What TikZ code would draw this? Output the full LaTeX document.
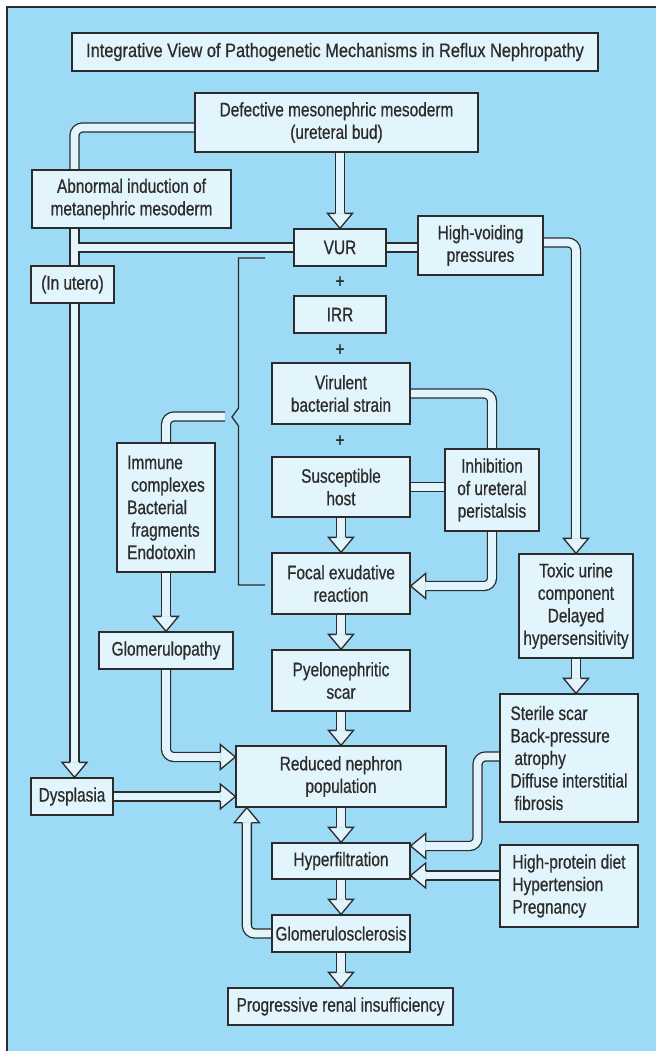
\documentclass[tikz,border=0pt]{standalone}
\usepackage{fontspec}
\setmainfont{Liberation Sans}[FakeStretch=0.79, FakeBold=0.6]
\newfontfamily\titlefont{Liberation Sans}[FakeStretch=0.84, FakeBold=0.6]
\usetikzlibrary{calc}
\definecolor{panel}{HTML}{9CDAF5}
\definecolor{boxfill}{HTML}{E2F4FC}
\definecolor{ink}{HTML}{2C2C2C}
\pgfdeclarelayer{back}
\pgfdeclarelayer{bands}
\pgfsetlayers{back,bands,main}

\tikzset{
  box/.style={draw=ink, fill=boxfill, line width=1.3pt, inner sep=0pt, text=ink,
              align=center, font=\fontsize{19.5}{22.5}\selectfont},
  lbox/.style={box, align=left},
  headstyle/.style={draw=ink, fill=boxfill, line width=1.3pt, line join=miter},
  bracketline/.style={draw=ink, line width=1.3pt},
  plus/.style={text=ink, inner sep=0pt, font=\fontsize{19.5}{22.5}\selectfont},
}

% hollow arrow head: #1 tip, #2 base centre
\newcommand\hhead[2]{%
  \filldraw[headstyle] ($(#2)!4.5pt!90:(#1)$) -- ($(#2)!12.5pt!90:(#1)$) -- (#1)
    -- ($(#2)!12.5pt!-90:(#1)$) -- ($(#2)!4.5pt!-90:(#1)$);}

% all broad connectors; drawn twice (outline pass, then fill pass)
\newcommand\bandpaths{%
  \draw[bandpass] ($(def.west)+(0,5)$) -- (c1) -- (c1 |- abn.north);
  \draw[bandpass] (c1 |- abn.south) -- (c1 |- ute.north);
  \draw[bandpass] (c1 |- ute.south) -- (a2b);
  \draw[bandpass] (vur.west) -- (c1 |- vur.west);
  \draw[bandpass] (vur.east) -- (vur.east -| hv.west);
  \draw[bandpass] (c2) -- (c2 -| tox.north) -- (a3b);
  \draw[bandpass] (tox.south) -- (a4b);
  \draw[bandpass] (def.south -| vur.north) -- (a1b);
  \draw[bandpass] (vir.east) -- (vir.east -| inh.north) -- (inh.north);
  \draw[bandpass] (sus.east) -- (sus.east -| inh.west);
  \draw[bandpass] (inh.south) -- (inh.south |- a5t) -- (a5b);
  \draw[bandpass] (sus.south) -- (a6b);
  \draw[bandpass] (foc.south) -- (a7b);
  \draw[bandpass] (pye.south) -- (a8b);
  \draw[bandpass] (rnp.south) -- (a9b);
  \draw[bandpass] (hyp.south) -- (a10b);
  \draw[bandpass] (gs.south) -- (a11b);
  \draw[bandpass] (c3) -- (c3 -| imm.north) -- (imm.north);
  \draw[bandpass] (imm.south) -- (a12b);
  \draw[bandpass] (gp.south) -- (gp.south |- a13t) -- (a13b);
  \draw[bandpass] (dys.east) -- (a14b);
  \draw[bandpass] (gs.west) -- (gs.west -| a15t) -- (a15b);
  \draw[bandpass] (c4) -- (c4 -| c5) -- (c5 |- a16t) -- (a16b);
  \draw[bandpass] (hp.west |- a17t) -- (a17b);
}

\begin{document}
\begin{tikzpicture}[x=1pt,y=-1pt]
\useasboundingbox (0,0) rectangle (656,1051);
\begin{pgfonlayer}{back}
  \fill[white] (0,0) rectangle (656,1051);
  \fill[panel] (7,7) rectangle (656,1051);
  \draw[ink, line width=1.3pt] (7,1051) -- (7,7) -- (656,7);
\end{pgfonlayer}

% boxes
\node[box, minimum width=526pt, minimum height=38pt, font=\titlefont\fontsize{19.5}{22.5}\selectfont]
  (title) at (335,52)
  {Integrative View of Pathogenetic Mechanisms in Reflux Nephropathy};
\node[box, minimum width=283pt, minimum height=59pt] (def) at (336.5,122.5)
  {Defective mesonephric mesoderm\\(ureteral bud)};
\node[box, minimum width=199pt, minimum height=58pt] (abn) at (131.5,199)
  {Abnormal induction of\\metanephric mesoderm};
\node[box, minimum width=92pt, minimum height=37pt] (vur) at (340,247.5) {VUR};
\node[box, minimum width=125pt, minimum height=59pt] (hv) at (480.5,245.5)
  {High-voiding\\pressures};
\node[box, minimum width=83pt, minimum height=37pt] (ute) at (72.5,284.5) {(In utero)};
\node[box, minimum width=92pt, minimum height=37pt] (irr) at (340,314.5) {IRR};
\node[box, minimum width=138pt, minimum height=61pt] (vir) at (341,393.5)
  {Virulent\\bacterial strain};
\node[box, minimum width=138pt, minimum height=60pt] (sus) at (341,487)
  {Susceptible\\host};
\node[box, minimum width=94pt, minimum height=82pt] (inh) at (492,490)
  {Inhibition\\of ureteral\\peristalsis};
\node[lbox, minimum width=98pt, minimum height=129pt] (imm) at (166,507.5)
  {Immune\\\hspace*{4pt}complexes\\Bacterial\\\hspace*{4pt}fragments\\Endotoxin};
\node[box, minimum width=138pt, minimum height=61pt] (foc) at (341,583.5)
  {Focal exudative\\reaction};
\node[box, minimum width=114pt, minimum height=104pt] (tox) at (576,606)
  {Toxic urine\\component\\Delayed\\hypersensitivity};
\node[box, minimum width=134pt, minimum height=37pt] (gp) at (166,650.5) {Glomerulopathy};
\node[box, minimum width=138pt, minimum height=61pt] (pye) at (341,680.5)
  {Pyelonephritic\\scar};
\node[lbox, minimum width=138pt, minimum height=128pt] (ste) at (569,758)
  {Sterile scar\\Back-pressure\\\hspace*{4pt}atrophy\\Diffuse interstitial\\\hspace*{4pt}fibrosis};
\node[box, minimum width=210pt, minimum height=61pt] (rnp) at (341,776.5)
  {Reduced nephron\\population};
\node[box, minimum width=82pt, minimum height=37pt] (dys) at (72,796.5) {Dysplasia};
\node[box, minimum width=138pt, minimum height=36pt] (hyp) at (341,861) {Hyperfiltration};
\node[lbox, minimum width=138pt, minimum height=82pt] (hp) at (569,886)
  {High-protein diet\\Hypertension\\Pregnancy};
\node[box, minimum width=138pt, minimum height=37pt] (gs) at (341,933.5) {Glomerulosclerosis};
\node[box, minimum width=225pt, minimum height=37pt] (prog) at (340.5,1006.5)
  {Progressive renal insufficiency};

% plus signs between the combined factors
\node[plus] (p1) at (340,282) {+};
\node[plus] (p2) at (340,350) {+};
\node[plus] (p3) at (340,441) {+};

% bracket grouping the infection factors
\coordinate (bt) at (265,258);
\coordinate (bb) at (265,585);
\draw[bracketline] (bt) -- (238.5,258) -- (238.5,408) -- (232,417) -- (238.5,426)
  -- (238.5,585) -- (bb);

% bend points, arrow tips (t) and head bases (b)
\coordinate (c1) at (74.5,127.5);
\coordinate (c2) at ($(hv.east)+(0,-3)$);
\coordinate (c3) at (225,416.5);
\coordinate (c4) at ($(ste.west)+(0,-1.5)$);
\coordinate (c5) at (477.5,0);
\coordinate (a1t) at (vur.north);              \coordinate (a1b) at ($(a1t)+(0,-15)$);
\coordinate (a2t) at (c1 |- dys.north);        \coordinate (a2b) at ($(a2t)+(0,-15)$);
\coordinate (a3t) at (tox.north);              \coordinate (a3b) at ($(a3t)+(0,-15)$);
\coordinate (a4t) at (tox.south |- ste.north); \coordinate (a4b) at ($(a4t)+(0,-15)$);
\coordinate (a5t) at ($(foc.east)+(0,2.5)$);   \coordinate (a5b) at ($(a5t)+(15,0)$);
\coordinate (a6t) at (foc.north);              \coordinate (a6b) at ($(a6t)+(0,-15)$);
\coordinate (a7t) at (pye.north);              \coordinate (a7b) at ($(a7t)+(0,-15)$);
\coordinate (a8t) at (rnp.north);              \coordinate (a8b) at ($(a8t)+(0,-15)$);
\coordinate (a9t) at (hyp.north);              \coordinate (a9b) at ($(a9t)+(0,-15)$);
\coordinate (a10t) at (gs.north);              \coordinate (a10b) at ($(a10t)+(0,-15)$);
\coordinate (a11t) at (gs.south |- prog.north);\coordinate (a11b) at ($(a11t)+(0,-15)$);
\coordinate (a12t) at (gp.north);              \coordinate (a12b) at ($(a12t)+(0,-15)$);
\coordinate (a13t) at ($(rnp.west)+(0,-19.5)$);\coordinate (a13b) at ($(a13t)+(-15,0)$);
\coordinate (a14t) at (dys.east -| rnp.west);  \coordinate (a14b) at ($(a14t)+(-15,0)$);
\coordinate (a15t) at ($(rnp.south west)+(11.5,0)$); \coordinate (a15b) at ($(a15t)+(0,15)$);
\coordinate (a16t) at ($(hyp.east)+(0,-15)$);  \coordinate (a16b) at ($(a16t)+(15,0)$);
\coordinate (a17t) at ($(hyp.east)+(0,14.5)$); \coordinate (a17b) at ($(a17t)+(15,0)$);

\begin{pgfonlayer}{bands}
  \tikzset{bandpass/.style={line width=10.3pt, draw=ink, rounded corners=8pt}}
  \bandpaths
  \tikzset{bandpass/.style={line width=7.7pt, draw=boxfill, rounded corners=8pt}}
  \bandpaths
  \foreach \i in {1,...,17} {\hhead{a\i t}{a\i b}}
\end{pgfonlayer}
\end{tikzpicture}
\end{document}
